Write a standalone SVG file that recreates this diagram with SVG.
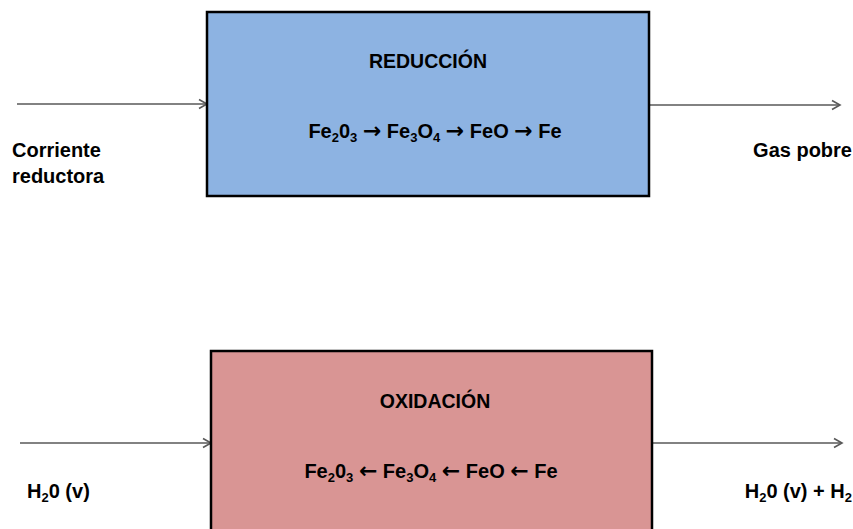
<svg xmlns="http://www.w3.org/2000/svg" width="853" height="529" viewBox="0 0 853 529">
<style>
.box{stroke:#000;stroke-width:2.5}
.t{font-family:"Liberation Sans",Arial,sans-serif;font-weight:bold;fill:#000;font-size:20px}
.h{font-size:19.5px}
.s{font-size:13px}
.ar{font-family:"DejaVu Sans",sans-serif;font-size:22px;font-weight:bold}
.c{stroke:#595959;stroke-width:1.6;fill:none}
</style>
<defs>
<marker id="a" markerWidth="12" markerHeight="12" refX="10" refY="6" orient="auto" markerUnits="userSpaceOnUse">
<path d="M2,1.5 L10,6 L2,10.5" fill="none" stroke="#595959" stroke-width="1.6"/>
</marker>
</defs>
<g id="connectors">
<line class="c" x1="17" y1="104" x2="207" y2="104" marker-end="url(#a)"/>
<line class="c" x1="649" y1="105" x2="840" y2="105" marker-end="url(#a)"/>
<line class="c" x1="20" y1="443" x2="211" y2="443" marker-end="url(#a)"/>
<line class="c" x1="652" y1="443" x2="842" y2="443" marker-end="url(#a)"/>
</g>
<g id="reduccion">
<rect class="box" x="207" y="12" width="442" height="184" fill="#8DB3E2"/>
<text class="t h" x="428" y="68" text-anchor="middle">REDUCCIÓN</text>
<text class="t" x="435" y="138" text-anchor="middle">Fe<tspan class="s" dy="4">2</tspan><tspan dy="-4">0</tspan><tspan class="s" dy="4">3</tspan><tspan dy="-4"> </tspan><tspan class="ar">→</tspan> Fe<tspan class="s" dy="4">3</tspan><tspan dy="-4">O</tspan><tspan class="s" dy="4">4</tspan><tspan dy="-4"> </tspan><tspan class="ar">→</tspan> FeO <tspan class="ar">→</tspan> Fe</text>
</g>
<g id="oxidacion">
<rect class="box" x="211" y="351" width="441" height="200" fill="#D99594"/>
<text class="t h" x="435" y="408" text-anchor="middle">OXIDACIÓN</text>
<text class="t" x="431" y="478" text-anchor="middle">Fe<tspan class="s" dy="4">2</tspan><tspan dy="-4">0</tspan><tspan class="s" dy="4">3</tspan><tspan dy="-4"> </tspan><tspan class="ar">←</tspan> Fe<tspan class="s" dy="4">3</tspan><tspan dy="-4">O</tspan><tspan class="s" dy="4">4</tspan><tspan dy="-4"> </tspan><tspan class="ar">←</tspan> FeO <tspan class="ar">←</tspan> Fe</text>
</g>
<g id="labels">
<text class="t" x="12" y="157">Corriente</text>
<text class="t" x="12" y="183">reductora</text>
<text class="t" x="852" y="157" text-anchor="end">Gas pobre</text>
<text class="t" x="27" y="498">H<tspan class="s" dy="4">2</tspan><tspan dy="-4">0 (v)</tspan></text>
<text class="t" x="852" y="498" text-anchor="end">H<tspan class="s" dy="4">2</tspan><tspan dy="-4">0 (v) + H</tspan><tspan class="s" dy="4">2</tspan></text>
</g>
</svg>
